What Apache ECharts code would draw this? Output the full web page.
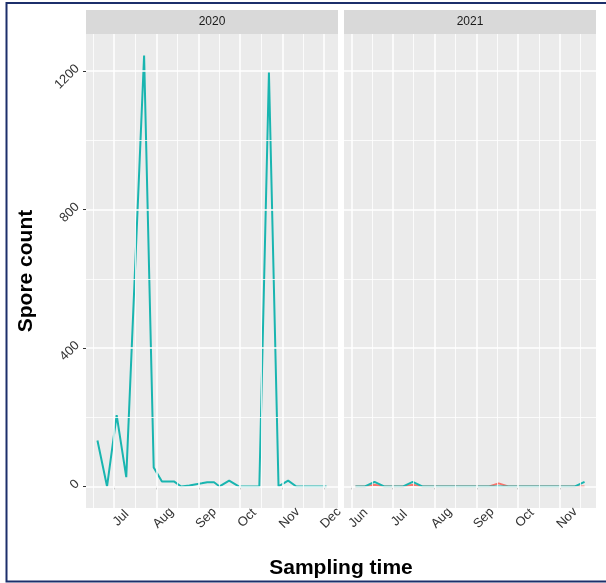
<!DOCTYPE html>
<html>
<head>
<meta charset="utf-8">
<script src="https://cdn.jsdelivr.net/npm/echarts@6/dist/echarts.min.js"></script>
<style>
  html, body { margin: 0; padding: 0; background: #fff; }
  #grafico { width: 606px; height: 583px; }
</style>
</head>
<body>
<div id="grafico"></div>
<script>
// paneles
const anios = ['2020', '2021'];

// muestreos 2020 (solo serie turquesa visible)
const fechas2020 = ['2020-06-19', '2020-06-26', '2020-07-03', '2020-07-10', '2020-07-23', '2020-07-30',
  '2020-08-05', '2020-08-14', '2020-08-19', '2020-08-25', '2020-09-03', '2020-09-07', '2020-09-12',
  '2020-09-16', '2020-09-23', '2020-09-30', '2020-10-15', '2020-10-22', '2020-10-29', '2020-11-05',
  '2020-11-11', '2020-12-03'];
const turquesa2020 = [133, 0, 206, 27, 1245, 55, 14, 14, 0, 3, 9, 12, 12, 0, 17, 0, 0, 1196, 0, 17, 0, 0];

// muestreos 2021 (semanales)
const fechas2021 = ['2021-06-04', '2021-06-11', '2021-06-18', '2021-06-25', '2021-07-02', '2021-07-09',
  '2021-07-16', '2021-07-23', '2021-07-30', '2021-08-06', '2021-08-13', '2021-08-20', '2021-08-27',
  '2021-09-03', '2021-09-10', '2021-09-17', '2021-09-24', '2021-10-01', '2021-10-08', '2021-10-15',
  '2021-10-22', '2021-10-29', '2021-11-05', '2021-11-12', '2021-11-19'];
const turquesa2021 = [0, 0, 13, 0, 0, 0, 13, 0, 0, 0, 0, 0, 0, 0, 0, 0, 0, 0, 0, 0, 0, 0, 0, 0, 13];
const rojo2021 = [0, 0, 5, 0, 0, 0, 5, 0, 0, 0, 0, 0, 0, 0, 0, 9, 0, 0, 0, 0, 0, 0, 0, 0, 0];

// cortes de ejes
const yTicks = [0, 400, 800, 1200];
const yMenores = [200, 600, 1000];
const xTicks2020 = ['2020-07-01', '2020-08-01', '2020-09-01', '2020-10-01', '2020-11-01', '2020-12-01'];
const xEtiquetas2020 = ['Jul', 'Aug', 'Sep', 'Oct', 'Nov', 'Dec'];
const xMenores2020 = ['2020-06-16', '2020-07-16 12:00', '2020-08-16 12:00', '2020-09-16', '2020-10-16 12:00', '2020-11-16'];
const xTicks2021 = ['2021-06-01', '2021-07-01', '2021-08-01', '2021-09-01', '2021-10-01', '2021-11-01'];
const xEtiquetas2021 = ['Jun', 'Jul', 'Aug', 'Sep', 'Oct', 'Nov'];
const xMenores2021 = ['2021-06-16', '2021-07-16 12:00', '2021-08-16 12:00', '2021-09-16', '2021-10-16 12:00', '2021-11-16'];

const TURQ = '#19B5B0';
const ROJO = '#F8766D';
const FUENTE = 'Liberation Sans, Arial, sans-serif';
const GRIS_TXT = '#333333';

const ts = (s) => +echarts.time.parse(s);

// expansion estilo ggplot (5%)
function expandir(min, max) {
  const pad = (max - min) * 0.05;
  return [min - pad, max + pad];
}
const todosY = turquesa2020.concat(turquesa2021, rojo2021);
const yLim = expandir(0, Math.max(...todosY));
const xLim2020 = expandir(ts(fechas2020[0]), ts(fechas2020[fechas2020.length - 1]));
const xLim2021 = expandir(ts(fechas2021[0]), ts(fechas2021[fechas2021.length - 1]));

const grids = [
  { left: 86, top: 34, width: 252, height: 474 },
  { left: 344, top: 34, width: 252, height: 474 }
];

// eje x como valor (marca de tiempo en ms)
function ejeX(idx, lim, ticks, etiquetas) {
  const valores = ticks.map(ts);
  return {
    type: 'value', gridIndex: idx, min: lim[0], max: lim[1], scale: true,
    axisLine: { show: false },
    axisTick: { show: true, customValues: valores, length: 3, lineStyle: { color: '#333', width: 1 } },
    axisLabel: {
      customValues: valores, rotate: 45, align: 'center', verticalAlign: 'top', lineHeight: 20,
      margin: 3, fontSize: 13, color: GRIS_TXT, fontFamily: FUENTE,
      formatter: (v) => {
        const k = valores.findIndex((t) => Math.abs(t - v) < 1000);
        return k >= 0 ? etiquetas[k] : '';
      }
    },
    splitLine: { show: false }
  };
}

function ejeY(idx, mostrar) {
  return {
    type: 'value', gridIndex: idx, min: yLim[0], max: yLim[1],
    axisLine: { show: false },
    axisTick: { show: mostrar, customValues: yTicks, length: 3, lineStyle: { color: '#333', width: 1 } },
    axisLabel: {
      show: mostrar, customValues: yTicks, rotate: 45, margin: 4, verticalAlign: 'bottom',
      fontSize: 13, color: GRIS_TXT, fontFamily: FUENTE,
      formatter: (v) => String(Math.round(v))
    },
    splitLine: { show: false }
  };
}

// lineas de rejilla blancas (mayores y menores)
function rejilla(idx, xTicks, xMenores) {
  const mayor = { color: '#FFFFFF', width: 1.5, type: 'solid' };
  const menor = { color: '#FFFFFF', width: 0.8, type: 'solid' };
  const datos = [];
  yMenores.forEach((v) => datos.push({ yAxis: v, lineStyle: menor }));
  xMenores.forEach((v) => datos.push({ xAxis: ts(v), lineStyle: menor }));
  yTicks.forEach((v) => datos.push({ yAxis: v, lineStyle: mayor }));
  xTicks.forEach((v) => datos.push({ xAxis: ts(v), lineStyle: mayor }));
  return {
    type: 'line', xAxisIndex: idx, yAxisIndex: idx, data: [], z: 1, silent: true,
    markLine: { silent: true, symbol: 'none', label: { show: false }, animation: false, data: datos }
  };
}

function serie(idx, fechas, valores, color) {
  return {
    type: 'line', xAxisIndex: idx, yAxisIndex: idx, z: 3, silent: true,
    symbol: 'none', showSymbol: false,
    lineStyle: { color: color, width: 2 }, itemStyle: { color: color },
    data: fechas.map((f, i) => [ts(f), valores[i]])
  };
}

const graficos = [];
anios.forEach((a, i) => {
  const g = grids[i];
  graficos.push({
    type: 'rect', shape: { x: g.left, y: 10, width: g.width, height: 24 },
    style: { fill: '#D9D9D9' }, silent: true
  });
  graficos.push({
    type: 'text', x: g.left + g.width / 2, y: 22,
    style: { text: a, fill: '#1A1A1A', font: '12px ' + FUENTE, textAlign: 'center', textVerticalAlign: 'middle' },
    silent: true
  });
});
graficos.push({
  type: 'text', x: 26, y: 271, rotation: Math.PI / 2,
  style: { text: 'Spore count', fill: '#000', font: 'bold 21px ' + FUENTE, textAlign: 'center', textVerticalAlign: 'middle' }
});
graficos.push({
  type: 'text', x: 341, y: 568,
  style: { text: 'Sampling time', fill: '#000', font: 'bold 21px ' + FUENTE, textAlign: 'center', textVerticalAlign: 'middle' }
});
graficos.push({
  type: 'rect', shape: { x: 6.5, y: 3, width: 610, height: 578.5 },
  style: { fill: 'none', stroke: '#1C2F6B', lineWidth: 2 }, silent: true, z: 100
});

const option = {
  animation: false,
  backgroundColor: '#FFFFFF',
  textStyle: { fontFamily: FUENTE },
  grid: grids.map((g) => Object.assign({ show: true, backgroundColor: '#EBEBEB', borderWidth: 0 }, g)),
  xAxis: [ejeX(0, xLim2020, xTicks2020, xEtiquetas2020), ejeX(1, xLim2021, xTicks2021, xEtiquetas2021)],
  yAxis: [ejeY(0, true), ejeY(1, false)],
  series: [
    rejilla(0, xTicks2020, xMenores2020),
    rejilla(1, xTicks2021, xMenores2021),
    serie(0, fechas2020, turquesa2020, TURQ),
    serie(1, fechas2021, rojo2021, ROJO),
    serie(1, fechas2021, turquesa2021, TURQ)
  ],
  graphic: graficos
};

const miGrafico = echarts.init(document.getElementById('grafico'));
miGrafico.setOption(option);
</script>
</body>
</html>
